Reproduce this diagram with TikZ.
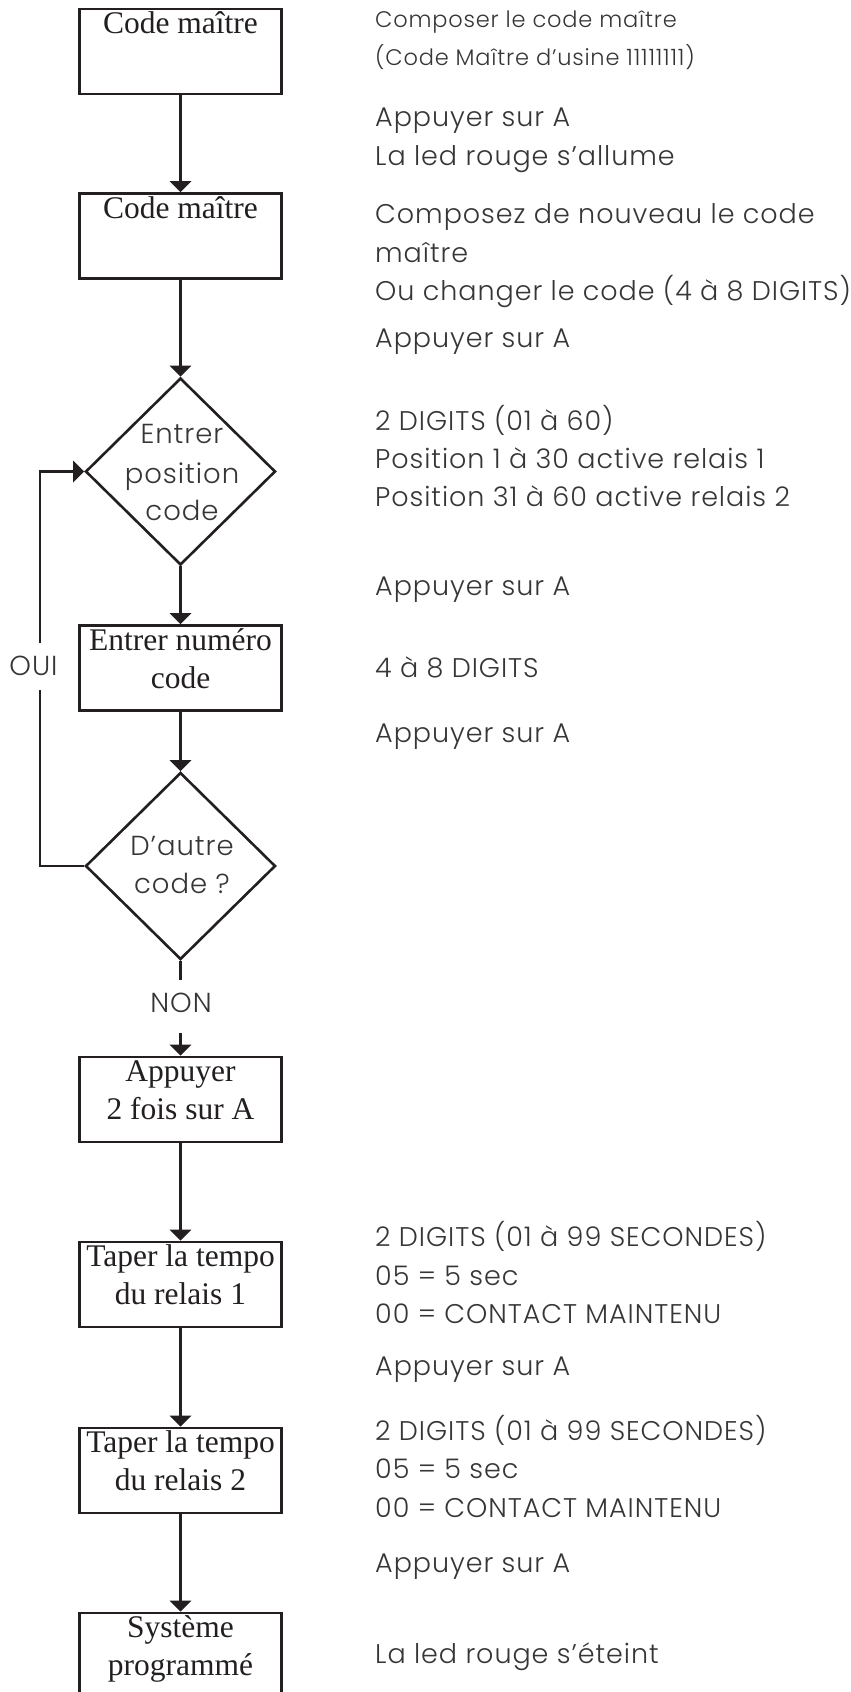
\documentclass[tikz,border=0pt]{standalone}
\usepackage{fontspec}
\setmainfont{Liberation Serif}
\newfontfamily\rt{Poppins Light}[LetterSpace=3.5]
\usetikzlibrary{shapes.geometric,arrows.meta}
\definecolor{ink}{HTML}{231F20}
\definecolor{txt}{HTML}{363636}
\newcommand\bxt[1]{\parbox[c][85pt][t]{202.5pt}{\centering\fontsize{31.5}{38}\selectfont\rule{0pt}{24.5pt}#1\par}}
\tikzset{
 box/.style={draw=ink, line width=2.6pt, inner sep=0pt, text=ink},
 dia/.style={diamond, draw=ink, line width=2.6pt, inner sep=0pt, minimum width=190pt, minimum height=187pt},
 flow/.style={draw=ink, line width=2.6pt, -{Triangle[width=21pt,length=11pt]}},
 wire/.style={draw=ink, line width=2.6pt},
 rtext/.style={anchor=base west, inner sep=0pt, text=txt, font=\rt\fontsize{27}{30}\selectfont},
 rsmall/.style={rtext, font=\rt\fontsize{22.5}{28}\selectfont},
 dtext/.style={anchor=base, inner sep=0pt, text=txt, font=\rt\fontsize{27.5}{30}\selectfont},
}
\begin{document}
\begin{tikzpicture}[x=1pt,y=-1pt]
\useasboundingbox (0,0) rectangle (851,1692);
% boxes
\node[box] (b1) at (180.5,51.5) {\bxt{Code maître}};
\node[box] (b2) at (180.5,236) {\bxt{Code maître}};
\node[dia] (d1) at (180.5,471.5) {};
\node[box] (b3) at (180.5,668) {\bxt{Entrer numéro\\code}};
\node[dia] (d2) at (180.5,866) {};
\node[box] (b4) at (180.5,1099.5) {\bxt{Appuyer\\2 fois sur A}};
\node[box] (b5) at (180.5,1284.5) {\bxt{Taper la tempo\\du relais 1}};
\node[box] (b6) at (180.5,1470.5) {\bxt{Taper la tempo\\du relais 2}};
\node[box] (b7) at (180.5,1655.5) {\bxt{Système\\programmé}};
% diamond texts
\node[dtext] (d1a) at (182,443) {Entrer};
\node[dtext] (d1b) at (182,483) {position};
\node[dtext] (d1c) at (182,520) {code};
\node[dtext] (d2a) at (182,855) {D’autre};
\node[dtext] (d2b) at (182,893) {code ?};
\node[dtext] (oui) at (33.5,675) {OUI};
\node[dtext] (non) at (181,1012) {NON};
% connectors
\draw[flow] (b1.south) -- (b2.north);
\draw[flow] (b2.south) -- (d1.north);
\draw[flow] (d1.south) -- (b3.north);
\draw[flow] (b3.south) -- (d2.north);
\coordinate (n1) at (180.5,980);
\coordinate (n2) at (180.5,1033);
\draw[wire] (d2.south) -- (n1);
\draw[flow] (n2) -- (b4.north);
\draw[flow] (b4.south) -- (b5.north);
\draw[flow] (b5.south) -- (b6.north);
\draw[flow] (b6.south) -- (b7.north);
\coordinate (c1) at (40,866);
\coordinate (g1) at (40,690);
\coordinate (g2) at (40,643);
\coordinate (c2) at (40,471.5);
\draw[wire] (d2.west) -- (c1) -- (g1);
\draw[flow] (g2) -- (c2) -- (d1.west);
% right texts
\node[rsmall] (t1) at (375,27) {Composer le code maître};
\node[rsmall] (t2) at (375,65) {(Code Maître d’usine 11111111)};
\node[rtext] (t3) at (375,126) {Appuyer sur A};
\node[rtext] (t4) at (375,165) {La led rouge s’allume};
\node[rtext] (t5) at (375,223) {Composez de nouveau le code};
\node[rtext] (t6) at (375,262) {maître};
\node[rtext] (t7) at (375,300) {Ou changer le code (4 à 8 DIGITS)};
\node[rtext] (t8) at (375,347) {Appuyer sur A};
\node[rtext] (t9) at (375,430) {2 DIGITS (01 à 60)};
\node[rtext] (t10) at (375,468) {Position 1 à 30 active relais 1};
\node[rtext] (t11) at (375,506) {Position 31 à 60 active relais 2};
\node[rtext] (t12) at (375,595) {Appuyer sur A};
\node[rtext] (t13) at (375,677) {4 à 8 DIGITS};
\node[rtext] (t14) at (375,742) {Appuyer sur A};
\node[rtext] (t15) at (375,1246) {2 DIGITS (01 à 99 SECONDES)};
\node[rtext] (t16) at (375,1285) {05 = 5 sec};
\node[rtext] (t17) at (375,1323) {00 = CONTACT MAINTENU};
\node[rtext] (t18) at (375,1375) {Appuyer sur A};
\node[rtext] (t19) at (375,1440) {2 DIGITS (01 à 99 SECONDES)};
\node[rtext] (t20) at (375,1478) {05 = 5 sec};
\node[rtext] (t21) at (375,1517) {00 = CONTACT MAINTENU};
\node[rtext] (t22) at (375,1572) {Appuyer sur A};
\node[rtext] (t23) at (375,1663) {La led rouge s’éteint};
\end{tikzpicture}
\end{document}
